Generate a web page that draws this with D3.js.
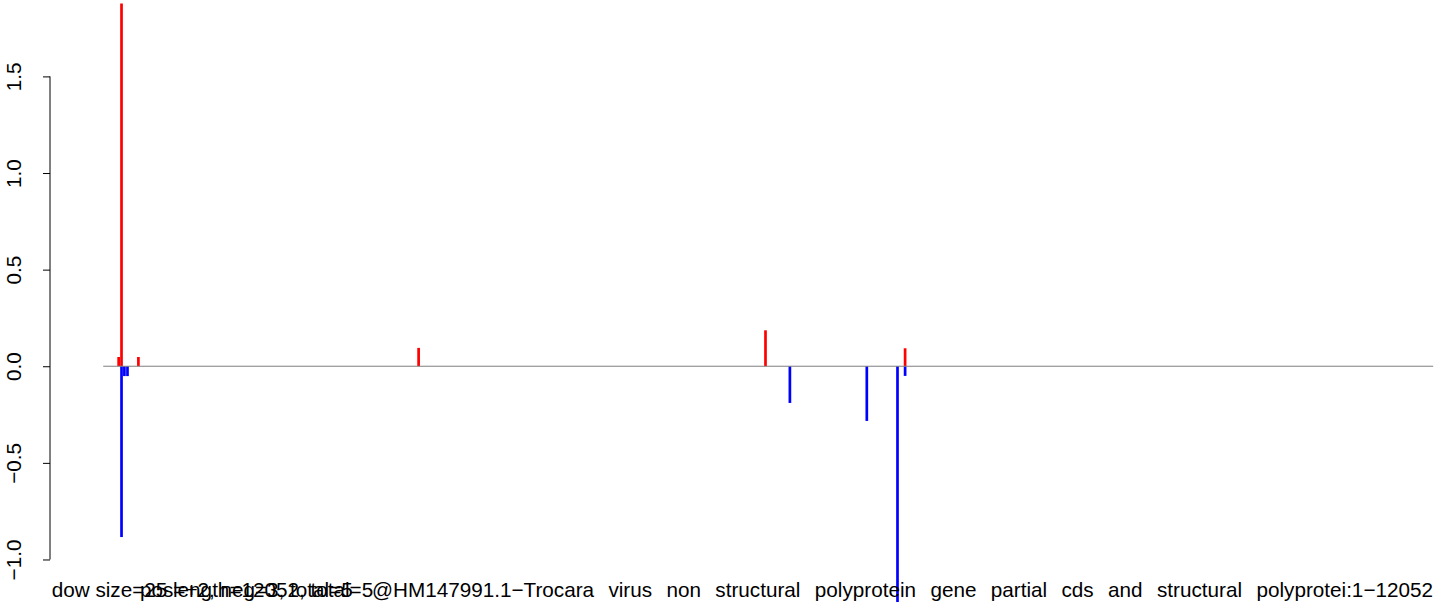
<!DOCTYPE html>
<html>
<head>
<meta charset="utf-8">
<script src="https://cdn.jsdelivr.net/npm/d3@7"></script>
<style>
  html, body { margin: 0; padding: 0; background: #ffffff; }
  svg { display: block; }
  text { font-family: "Liberation Sans", Arial, Helvetica, sans-serif; fill: #000; }
</style>
</head>
<body>
<svg id="chart" width="1444" height="602"></svg>
<script>
// Sequence range (nucleotide positions) and score limits
const seqRange = [1, 12052];
const scoreRange = [-1.3, 1.877];

// Window positions and their scores (positive = red, negative = blue)
const positions = [141, 167, 320, 2859, 6002, 7267, 167, 193, 221, 6223, 6920, 7198, 7267];
const scores    = [0.048, 1.877, 0.048, 0.095, 0.186, 0.093, -0.884, -0.051, -0.051, -0.19, -0.283, -1.3, -0.05];

// Y axis ticks
const yTicks = [-1.0, -0.5, 0.0, 0.5, 1.0, 1.5];

// Caption strings along the bottom margin
const captionA = "dow size=25 length=12052, total=5";
const captionB = "pos=+2, neg=3, total=5";
const captionC = "@HM147991.1\u2212Trocara virus non structural polyprotein gene partial cds and structural polyprotei:1\u221212052";

const fontPx = 20.7;

const svg = d3.select("#chart");

// Plot region, with the usual 4% padding around the data range
const plot = { left: 50, right: 1486.4, top: -21, bottom: 642 };
const padX = 0.04 * (seqRange[1] - seqRange[0]);
const padY = 0.04 * (scoreRange[1] - scoreRange[0]);

const x = d3.scaleLinear()
  .domain([seqRange[0] - padX, seqRange[1] + padX])
  .range([plot.left, plot.right]);

const y = d3.scaleLinear()
  .domain([scoreRange[0] - padY, scoreRange[1] + padY])
  .range([plot.bottom, plot.top]);

const data = positions.map((p, i) => ({ pos: p, score: scores[i] }));

// Vertical "h"-type spikes from zero
svg.append("g")
  .selectAll("line")
  .data(data)
  .join("line")
  .attr("x1", d => x(d.pos))
  .attr("x2", d => x(d.pos))
  .attr("y1", y(0))
  .attr("y2", d => y(d.score))
  .attr("stroke", d => d.score >= 0 ? "#ff0000" : "#0000ff")
  .attr("stroke-width", 2.7)
  .attr("stroke-linecap", "butt");

// Zero baseline across the sequence
svg.append("line")
  .attr("x1", x(seqRange[0]))
  .attr("x2", x(seqRange[1]))
  .attr("y1", y(0))
  .attr("y2", y(0))
  .attr("stroke", "#7f7f7f")
  .attr("stroke-width", 1);

// Left axis
const yAxis = d3.axisLeft(y)
  .tickValues(yTicks)
  .tickSize(7)
  .tickFormat(d3.format(".1f"));

const gAxis = svg.append("g")
  .attr("transform", `translate(${plot.left},0)`)
  .call(yAxis);

gAxis.select(".domain").remove();
gAxis.selectAll(".tick line").attr("stroke", "#000").attr("stroke-width", 1);
gAxis.append("line")
  .attr("x1", 0).attr("x2", 0)
  .attr("y1", y(yTicks[0])).attr("y2", y(yTicks[yTicks.length - 1]))
  .attr("stroke", "#000").attr("stroke-width", 1);

gAxis.selectAll(".tick text")
  .attr("x", null)
  .attr("dy", null)
  .attr("text-anchor", "middle")
  .attr("transform", "translate(-29,0) rotate(-90)")
  .style("font-family", "'Liberation Sans', Arial, Helvetica, sans-serif")
  .style("font-size", fontPx + "px")
  .attr("fill", "#000");

// Bottom captions (drawn overlapping, as emitted by the plotting script)
const capY = 597;

function caption(str, x0) {
  return svg.append("text")
    .attr("x", x0).attr("y", capY)
    .style("font-size", fontPx + "px")
    .text(str);
}

caption(captionA, 51.7);
caption(captionB, 140);
const startC = 372;
const tC = caption(captionC, startC);

// Spread the long caption's words so it ends at the right edge
const endX = 1433;
const natural = tC.node().getComputedTextLength();
const spaces = (captionC.match(/ /g) || []).length;
const extra = ((endX - startC) - natural) / spaces;
tC.style("word-spacing", extra + "px");
</script>
</body>
</html>
